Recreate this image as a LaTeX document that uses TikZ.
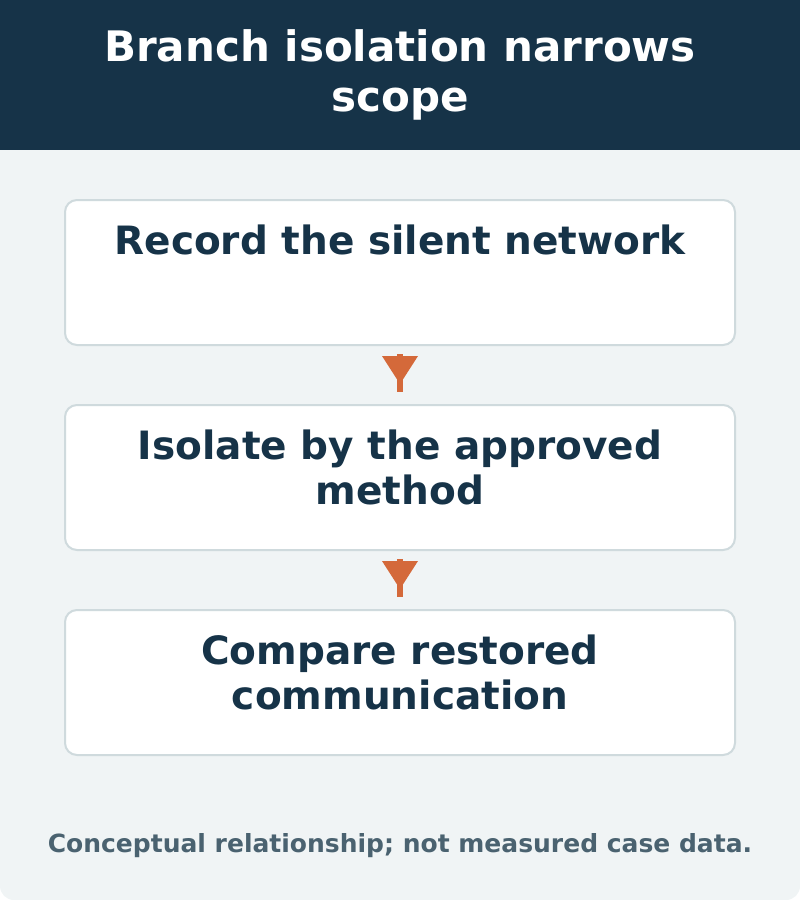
\documentclass[tikz,border=0pt]{standalone}
\usepackage{fontspec}
\setmainfont{DejaVu Sans}
\definecolor{navy}{HTML}{163348}
\definecolor{bg}{HTML}{F0F4F5}
\definecolor{bord}{HTML}{CFDADD}
\definecolor{org}{HTML}{D4693A}
\definecolor{foot}{HTML}{4A6270}
\begin{document}
\begin{tikzpicture}[x=1pt,y=-1pt,
 box/.style={draw=bord,line width=2pt,fill=white,rounded corners=12pt,minimum width=670pt,minimum height=145pt,inner sep=0pt},
 txt/.style={text=navy,font=\fontsize{39}{45}\selectfont\bfseries,align=center},
 arr/.style={fill=org}]
\useasboundingbox (0,0) rectangle (800,900);
\fill[bg,rounded corners=14pt] (0,0) rectangle (800,900);
\fill[navy] (0,0) rectangle (800,150);
\node[text=white,font=\fontsize{42}{50}\selectfont\bfseries,align=center] (title) at (400,75) {Branch isolation narrows\\scope};
\node[box] (b1) at (400,272.5) {};
\node[box] (b2) at (400,477.5) {};
\node[box] (b3) at (400,682.5) {};
\node[txt] (t1) at (400,240) {Record the silent network};
\node[txt] (t2) at (400,467) {Isolate by the approved\\method};
\node[txt] (t3) at (400,672) {Compare restored\\communication};
\foreach \a/\b in {b1/b2,b2/b3}{
 \coordinate (s) at ([yshift=-8]\a.south);
 \fill[org] ([xshift=-3]s) rectangle ([xshift=3,yshift=-38]s);
 \fill[org] ([xshift=-18,yshift=-2]s) -- ([xshift=18,yshift=-2]s) -- ([yshift=-30]s) -- cycle;
}
\node[text=foot,font=\fontsize{25}{28}\selectfont\bfseries] (f) at (400,846) {Conceptual relationship; not measured case data.};
\end{tikzpicture}
\end{document}
